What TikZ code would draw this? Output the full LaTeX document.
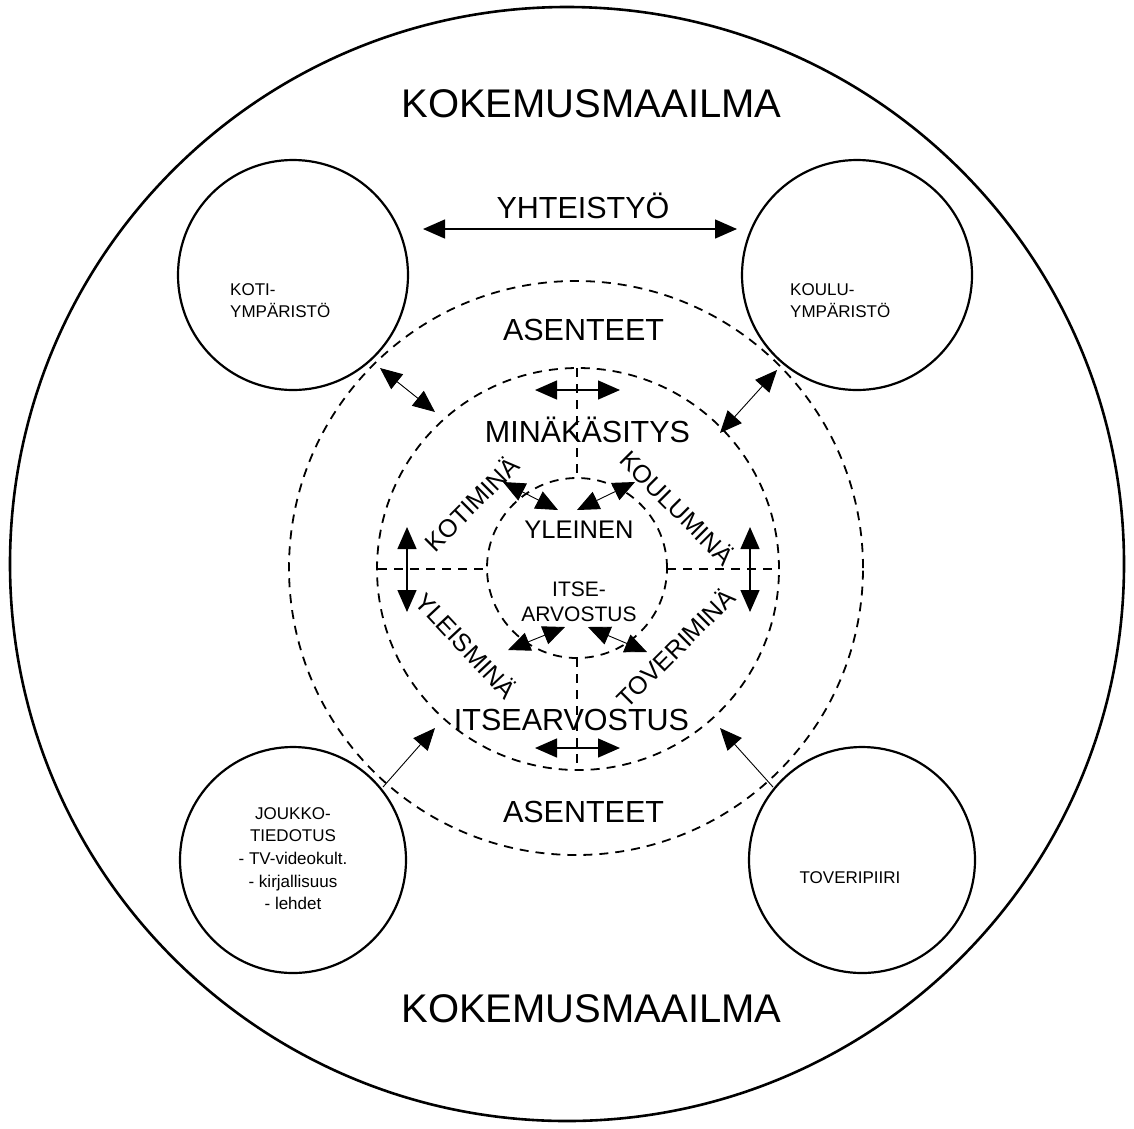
\documentclass[tikz,border=0pt]{standalone}
\usepackage{fontspec}
\setmainfont{Liberation Sans}
\usetikzlibrary{arrows.meta}

\begin{document}
\begin{tikzpicture}[x=1pt,y=-1pt,
  ring/.style={circle, draw, line width=2.2pt, inner sep=0pt},
  dring/.style={circle, draw, line width=1.8pt, dash pattern=on 9pt off 7pt, inner sep=0pt},
  spoke/.style={line width=1.8pt, dash pattern=on 9pt off 7pt},
  tip/.tip={Triangle[length=22pt,width=19pt]},
  both/.style={{tip}-{tip}, line width=1.4pt},
  thinboth/.style={{tip}-{tip}, line width=0.9pt},
  thinone/.style={-{tip}, line width=0.9pt},
  big/.style={font=\fontsize{40}{48}\selectfont, inner sep=0pt, anchor=base},
  mid/.style={font=\fontsize{30.5}{36}\selectfont, inner sep=0pt, anchor=base},
  rot/.style={font=\fontsize{25}{30}\selectfont, inner sep=0pt},
  small/.style={font=\fontsize{17}{22}\selectfont, inner sep=0pt}
]
\useasboundingbox (0,0) rectangle (1134,1128);

% outer world and the four surroundings
\node[ring, line width=2.6pt, minimum size=1114pt] (world) at (567,564) {};
\node[ring, minimum size=230pt] (koti)   at (293,275) {};
\node[ring, minimum size=230pt] (koulu)  at (857,275) {};
\node[ring, minimum size=226pt] (media)  at (293,860) {};
\node[ring, minimum size=226pt] (peers)  at (862,860) {};

% nested dashed rings
\node[dring, minimum size=574pt] (attitudes) at (576,568) {};
\node[dring, minimum size=402pt] (selfimage) at (578,569) {};
\node[dring, minimum size=180pt] (core)      at (577,568) {};

% dashed spokes between the inner rings
\coordinate (sT1) at (577,368); \coordinate (sT2) at (577,478);
\coordinate (sB1) at (577,658); \coordinate (sB2) at (577,770);
\coordinate (sL1) at (378,569); \coordinate (sL2) at (487,569);
\coordinate (sR1) at (667,569); \coordinate (sR2) at (778,569);
\draw[spoke] (sT1) -- (sT2);
\draw[spoke] (sB1) -- (sB2);
\draw[spoke] (sL1) -- (sL2);
\draw[spoke] (sR1) -- (sR2);

% arrow end points
\coordinate (yL) at (423,229);  \coordinate (yR) at (737,229);
\coordinate (kA) at (380,368);  \coordinate (kB) at (435,412);
\coordinate (uA) at (777,370);  \coordinate (uB) at (720,433);
\coordinate (jA) at (383,787);  \coordinate (jB) at (435,728);
\coordinate (tA) at (773,787);  \coordinate (tB) at (720,728);
\coordinate (hTL) at (535,390); \coordinate (hTR) at (620,390);
\coordinate (hBL) at (535,748); \coordinate (hBR) at (620,748);
\coordinate (vLT) at (407,527); \coordinate (vLB) at (407,612);
\coordinate (vRT) at (750,527); \coordinate (vRB) at (750,612);
\coordinate (iULa) at (503,482); \coordinate (iULb) at (558,510);
\coordinate (iURa) at (635,482); \coordinate (iURb) at (577,510);
\coordinate (iLLa) at (508,650); \coordinate (iLLb) at (565,627);
\coordinate (iLRa) at (647,652); \coordinate (iLRb) at (588,627);

\draw[both] (yL) -- (yR);
\draw[thinboth] (kA) -- (kB);
\draw[thinboth] (uA) -- (uB);
\draw[thinone] (jA) -- (jB);
\draw[thinone] (tA) -- (tB);
\draw[both] (hTL) -- (hTR);
\draw[both] (hBL) -- (hBR);
\draw[both] (vLT) -- (vLB);
\draw[both] (vRT) -- (vRB);
\draw[thinboth] (iULa) -- (iULb);
\draw[thinboth] (iURa) -- (iURb);
\draw[thinboth] (iLLa) -- (iLLb);
\draw[thinboth] (iLRa) -- (iLRb);

% titles
\node[big] (worldT) at (591.5,117)  {KOKEMUSMAAILMA};
\node[big] (worldB) at (591.5,1022) {KOKEMUSMAAILMA};
\node[mid] (coop)   at (583,218)   {YHTEISTYÖ};
\node[mid] (attT)   at (583.5,340) {ASENTEET};
\node[mid] (attB)   at (583.5,822) {ASENTEET};
\node[mid] (selfT)  at (587.5,442) {MINÄKÄSITYS};
\node[mid] (esteem) at (571.5,730) {ITSEARVOSTUS};
\node[font=\fontsize{25.5}{30}\selectfont, inner sep=0pt, anchor=base] (general) at (579,538) {YLEINEN};
\node[font=\fontsize{21}{25}\selectfont, inner sep=0pt, anchor=north, align=center] (coreT) at (579,582) {ITSE-\\ARVOSTUS};

% the four partial selves
\node[rot, rotate=45]  (homeself)   at (471,503) {KOTIMINÄ};
\node[rot, rotate=-45] (schoolself) at (678,507) {KOULUMINÄ};
\node[rot, rotate=-47] (genself)    at (467,645) {YLEISMINÄ};
\node[rot, rotate=45]  (peerself)   at (675,647) {TOVERIMINÄ};

% labels of the surroundings
\node[small, anchor=north west, align=left] (kotiT)  at (230,283) {KOTI-\\YMPÄRISTÖ};
\node[small, anchor=north west, align=left] (kouluT) at (790,283) {KOULU-\\YMPÄRISTÖ};
\node[small, anchor=north, align=center, font=\fontsize{17}{22.7}\selectfont] (mediaT) at (293,807)
  {JOUKKO-\\TIEDOTUS\\- TV-videokult.\\- kirjallisuus\\- lehdet};
\node[small, anchor=base] (peersT) at (850,883) {TOVERIPIIRI};
\end{tikzpicture}
\end{document}
